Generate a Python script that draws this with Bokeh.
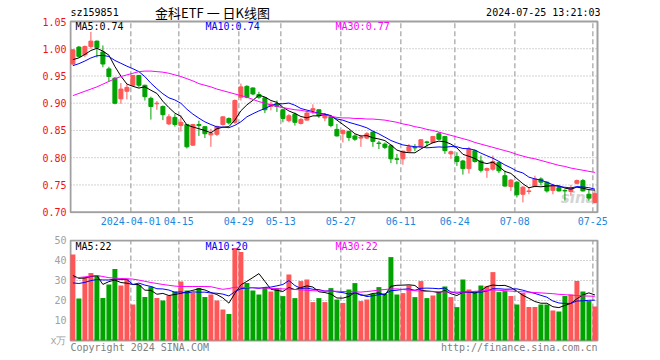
import numpy as np
import pandas as pd
from bokeh.plotting import figure
from bokeh.layouts import column
from bokeh.models import Range1d, FixedTicker, ColumnDataSource
from bokeh.core.properties import value
from bokeh.embed import file_html
from bokeh.resources import INLINE

# ---------------- data ----------------
holidays = ["2024-04-04", "2024-04-05", "2024-05-01", "2024-05-02", "2024-05-03", "2024-06-10"]
dates = [d.strftime("%Y-%m-%d") for d in pd.bdate_range("2024-03-18", "2024-07-25")
         if d.strftime("%Y-%m-%d") not in holidays]

opens = [0.972, 1.003, 0.989, 1.004, 1.014, 0.994, 0.963, 0.946, 0.908, 0.922,
         0.933, 0.951, 0.933, 0.909, 0.899, 0.894, 0.862, 0.874, 0.859, 0.861,
         0.823, 0.861, 0.857, 0.842, 0.843, 0.861, 0.872, 0.865, 0.911, 0.931,
         0.928, 0.916, 0.910, 0.894, 0.899, 0.888, 0.868, 0.880, 0.863, 0.869,
         0.887, 0.888, 0.873, 0.875, 0.852, 0.844, 0.848, 0.840, 0.836, 0.836,
         0.847, 0.827, 0.825, 0.822, 0.798, 0.798, 0.812, 0.819, 0.820, 0.829,
         0.828, 0.844, 0.839, 0.807, 0.802, 0.794, 0.780, 0.813, 0.794, 0.777,
         0.779, 0.791, 0.767, 0.747, 0.755, 0.733, 0.738, 0.747, 0.761, 0.755,
         0.740, 0.745, 0.740, 0.738, 0.753, 0.758, 0.733, 0.718]
highs = [0.999, 1.005, 1.006, 1.031, 1.015, 1.006, 0.967, 0.948, 0.937, 0.935,
         0.952, 0.952, 0.934, 0.912, 0.904, 0.896, 0.880, 0.880, 0.878, 0.862,
         0.862, 0.868, 0.858, 0.853, 0.859, 0.876, 0.874, 0.907, 0.936, 0.933,
         0.929, 0.921, 0.911, 0.903, 0.905, 0.890, 0.880, 0.883, 0.873, 0.886,
         0.898, 0.889, 0.882, 0.877, 0.862, 0.852, 0.850, 0.843, 0.842, 0.847,
         0.848, 0.831, 0.828, 0.825, 0.807, 0.813, 0.825, 0.825, 0.834, 0.831,
         0.840, 0.847, 0.840, 0.813, 0.810, 0.796, 0.820, 0.815, 0.804, 0.782,
         0.804, 0.793, 0.776, 0.761, 0.757, 0.748, 0.745, 0.767, 0.764, 0.757,
         0.752, 0.748, 0.742, 0.750, 0.760, 0.761, 0.742, 0.740]
lows = [0.970, 0.984, 0.985, 1.000, 0.984, 0.966, 0.940, 0.898, 0.899, 0.907,
        0.931, 0.929, 0.905, 0.870, 0.888, 0.869, 0.860, 0.857, 0.848, 0.817,
        0.822, 0.840, 0.836, 0.820, 0.840, 0.859, 0.861, 0.862, 0.905, 0.909,
        0.915, 0.908, 0.882, 0.887, 0.884, 0.865, 0.865, 0.859, 0.861, 0.868,
        0.880, 0.873, 0.867, 0.856, 0.839, 0.828, 0.831, 0.831, 0.820, 0.834,
        0.820, 0.816, 0.816, 0.790, 0.788, 0.787, 0.810, 0.812, 0.819, 0.820,
        0.826, 0.832, 0.807, 0.798, 0.785, 0.769, 0.771, 0.791, 0.773, 0.763,
        0.776, 0.772, 0.747, 0.739, 0.727, 0.718, 0.733, 0.746, 0.749, 0.736,
        0.733, 0.738, 0.721, 0.730, 0.751, 0.738, 0.721, 0.716]
closes = [0.998, 0.986, 1.004, 1.014, 1.002, 0.972, 0.949, 0.900, 0.926, 0.929,
          0.951, 0.933, 0.912, 0.894, 0.900, 0.879, 0.875, 0.861, 0.865, 0.820,
          0.861, 0.859, 0.844, 0.845, 0.857, 0.875, 0.864, 0.905, 0.930, 0.911,
          0.917, 0.911, 0.888, 0.898, 0.894, 0.872, 0.877, 0.865, 0.870, 0.882,
          0.890, 0.877, 0.879, 0.859, 0.840, 0.850, 0.837, 0.834, 0.838, 0.844,
          0.830, 0.826, 0.819, 0.798, 0.797, 0.812, 0.820, 0.818, 0.833, 0.828,
          0.839, 0.834, 0.813, 0.811, 0.793, 0.780, 0.816, 0.793, 0.777, 0.780,
          0.793, 0.776, 0.748, 0.759, 0.732, 0.746, 0.739, 0.761, 0.755, 0.739,
          0.749, 0.739, 0.739, 0.745, 0.758, 0.739, 0.726, 0.734]
# closes of the 9 sessions before the first one shown (estimated from the MA lines)
prior_closes = [0.950, 0.955, 0.958, 0.962, 0.965, 0.970, 0.972, 0.978, 0.982]
# MA30 of price
ma30_price = [0.914, 0.918, 0.922, 0.926, 0.930, 0.935, 0.940, 0.945, 0.949, 0.952,
              0.955, 0.958, 0.959, 0.959, 0.958, 0.957, 0.955, 0.952, 0.949, 0.945,
              0.941, 0.936, 0.933, 0.930, 0.926, 0.923, 0.920, 0.917, 0.914, 0.911,
              0.907, 0.903, 0.900, 0.897, 0.894, 0.892, 0.890, 0.888, 0.887, 0.885,
              0.883, 0.881, 0.878, 0.876, 0.874, 0.873, 0.873, 0.872, 0.872, 0.871,
              0.871, 0.870, 0.869, 0.867, 0.865, 0.862, 0.860, 0.857, 0.855, 0.852,
              0.850, 0.847, 0.844, 0.841, 0.838, 0.835, 0.832, 0.828, 0.825, 0.822,
              0.819, 0.816, 0.813, 0.810, 0.806, 0.803, 0.800, 0.798, 0.795, 0.792,
              0.789, 0.786, 0.784, 0.781, 0.779, 0.777, 0.775, 0.773]

volume = [43.0, 21.0, 31.7, 33.8, 32.5, 21.2, 28.0, 35.7, 27.5, 30.8,
          18.0, 27.8, 21.7, 27.0, 21.2, 20.0, 22.5, 24.5, 29.5, 25.0,
          24.0, 26.2, 21.7, 23.0, 20.0, 15.5, 13.2, 46.2, 44.2, 28.8,
          25.0, 23.0, 26.7, 24.5, 26.2, 22.2, 33.0, 21.2, 29.7, 30.5,
          19.2, 21.2, 19.2, 26.2, 20.5, 18.8, 25.5, 28.7, 19.7, 20.5,
          23.3, 26.7, 23.3, 41.7, 23.0, 23.7, 27.5, 21.7, 29.7, 21.2,
          22.5, 24.5, 27.0, 21.7, 16.7, 30.5, 25.5, 24.2, 27.5, 27.2,
          34.2, 24.2, 24.7, 22.2, 18.0, 23.8, 16.7, 16.7, 18.0, 18.0,
          15.0, 14.5, 22.2, 23.0, 29.7, 24.5, 19.7, 17.0]
prior_volume = [24.0, 26.0, 25.0, 27.0, 23.5, 28.0, 31.0, 30.0, 30.5]
ma30_volume = [31.3, 31.5, 31.8, 32.2, 32.5, 32.0, 31.4, 31.2, 31.0, 30.9,
               30.7, 30.2, 29.6, 29.0, 28.5, 28.0, 27.6, 27.2, 27.0, 27.0,
               27.0, 27.0, 27.0, 26.9, 26.2, 25.6, 26.0, 26.6, 26.6, 26.5,
               26.4, 26.3, 26.2, 26.0, 25.9, 25.8, 25.7, 25.5, 25.3, 25.1,
               24.9, 24.8, 24.7, 24.7, 24.6, 24.5, 24.4, 24.3, 24.2, 24.5,
               24.8, 25.2, 25.5, 25.8, 25.8, 25.5, 25.2, 24.9, 24.7, 24.5,
               24.4, 24.3, 24.3, 24.2, 24.2, 24.2, 24.4, 24.6, 24.8, 25.0,
               25.3, 25.1, 24.9, 24.7, 24.5, 24.3, 24.2, 24.0, 23.8, 23.6,
               23.4, 23.1, 22.9, 22.7, 22.5, 22.3, 22.2, 22.1]

tick_dates = ["2024-04-01", "2024-04-15", "2024-04-29", "2024-05-13", "2024-05-27",
              "2024-06-11", "2024-06-24", "2024-07-08", "2024-07-25"]
tick_labels = ["2024-04-01", "04-15", "04-29", "05-13", "05-27", "06-11", "06-24", "07-08", "07-25"]
price_ticks = [0.70, 0.75, 0.80, 0.85, 0.90, 0.95, 1.00, 1.05]
volume_ticks = [0, 10, 20, 30, 40, 50]
volume_tick_labels = ["x万", "10", "20", "30", "40", "50"]

code = "sz159851"
title = "金科ETF 一 日K线图"
stamp = "2024-07-25 13:21:03"
price_legend = ["MA5:0.74", "MA10:0.74", "MA30:0.77"]
volume_legend = ["MA5:22", "MA10:20", "MA30:22"]
footer_left = "Copyright 2024 SINA.COM"
footer_right = "http://finance.sina.com.cn"
watermark = "sina"

# ---------------- styling / derived ----------------
RED = "#ff5757"
GREEN = "#00a300"
MA_COLORS = ["#000000", "#0000ff", "#ff00ff"]
FRAME = "#a0a0a0"
MONO = "DejaVu Sans Mono"
CJK = "Noto Sans CJK SC"

n = len(closes)
idx = np.arange(n)


def moving(values, prior, k):
    allv = np.array(list(prior) + list(values), dtype=float)
    off = len(prior)
    return [allv[off + i - k + 1: off + i + 1].mean() for i in range(len(values))]


ma5_p = moving(closes, prior_closes, 5)
ma10_p = moving(closes, prior_closes, 10)
ma5_v = moving(volume, prior_volume, 5)
ma10_v = moving(volume, prior_volume, 10)

colors = [RED if c >= o else GREEN for o, c in zip(opens, closes)]
src = ColumnDataSource(dict(
    x=idx, h=highs, l=lows,
    top=[max(o, c) for o, c in zip(opens, closes)],
    bot=[min(o, c) for o, c in zip(opens, closes)],
    vol=volume, color=colors))

tick_pos = [dates.index(d) - 0.35 for d in tick_dates]
# plot box in index units: from just before first candle to just after last one
BOX_L, BOX_R = -0.4, (n - 1) + 0.43
PX = 6.0  # pixels per session
XR = (BOX_L - 1 / PX, BOX_R + 8 / PX)
W = 658
FRAME_LEFT = 69
FRAME_RIGHT = 605


def panel(height, yr, top_border, bottom_border):
    f = figure(width=W, height=height, x_range=Range1d(*XR), y_range=Range1d(*yr),
               output_backend="svg", toolbar_location=None)
    f.min_border_left = FRAME_LEFT
    f.min_border_right = W - FRAME_RIGHT
    f.min_border_top = top_border
    f.min_border_bottom = bottom_border
    f.outline_line_color = None
    f.background_fill_color = "white"
    f.border_fill_color = "white"
    f.xgrid.visible = False
    f.ygrid.visible = False
    f.yaxis.axis_line_color = None
    f.yaxis.major_tick_line_color = None
    f.yaxis.minor_tick_line_color = None
    f.yaxis.major_tick_out = 0
    f.yaxis.major_tick_in = 0
    f.yaxis.minor_tick_out = 0
    f.yaxis.major_label_standoff = 3
    f.yaxis.major_label_text_font = MONO
    f.yaxis.major_label_text_font_size = "10px"
    return f


def box_and_grid(f, y0, y1, grid_vals):
    k = len(grid_vals)
    f.segment(x0=[BOX_L] * k, y0=grid_vals, x1=[BOX_R] * k, y1=grid_vals,
              line_color="#a8a8a8", line_dash="1 2", line_width=1)
    f.segment(x0=tick_pos, y0=[y0] * len(tick_pos), x1=tick_pos, y1=[y1] * len(tick_pos),
              line_color="#b4b4b4", line_dash="5 3", line_width=1.5)
    f.quad(left=[BOX_L], right=[BOX_R], bottom=[y0], top=[y1], fill_color=None,
           line_color=FRAME, line_width=2)


def txt(f, x, y, s, color, align="left", font=MONO, size="10px", style="normal"):
    f.text(x=[x], y=[y], text=[s], text_color=color, text_align=align, text_baseline="middle",
           text_font=value(font), text_font_size=size, text_font_style=style)


# ---------------- price panel (frame reaches the top of the page for the header) ----------------
PY0, PY1 = price_ticks[0], price_ticks[-1]
PPX = 544.7  # pixels per 1.0 of price
p = panel(234, (PY0 - 1.3 / PPX, PY1 + 21 / PPX), 0, 21)
p.yaxis.ticker = FixedTicker(ticks=price_ticks)
p.yaxis.major_label_overrides = {t: f"{t:.2f}" for t in price_ticks}
p.yaxis.major_label_text_color = "#ee1111"
p.xaxis.ticker = FixedTicker(ticks=tick_pos)
p.xaxis.major_label_overrides = {t: lab for t, lab in zip(tick_pos, tick_labels)}
p.xaxis.major_label_text_color = "#1a88dd"
p.xaxis.major_label_text_font = MONO
p.xaxis.major_label_text_font_size = "10px"
p.xaxis.major_label_standoff = 3
p.xaxis.major_tick_out = 0
p.xaxis.major_tick_in = 0
p.xaxis.minor_tick_out = 0
p.xaxis.axis_line_color = None
p.xaxis.major_tick_line_color = None
p.xaxis.minor_tick_line_color = None

box_and_grid(p, PY0, PY1, price_ticks[1:-1])
txt(p, BOX_R - 3.2, PY0 + 14 / PPX, watermark, "#d4d4d4", "center", "DejaVu Sans", "15px", "bold italic")

p.segment(x0="x", y0="l", x1="x", y1="h", color="color", line_width=1, source=src)
p.vbar(x="x", width=0.67, top="top", bottom="bot", fill_color="color",
       line_color="color", line_width=1, source=src)
for ys, col in zip([ma5_p, ma10_p, ma30_price], MA_COLORS):
    p.line(idx, ys, line_color=col, line_width=1)

header_y = PY1 + 9 / PPX
txt(p, BOX_L, header_y, code, "black")
txt(p, 23.27, header_y, title, "black", "center", CJK, "13px")
txt(p, BOX_R + 0.5, header_y, stamp, "black", "right")
for s, xx, col in zip(price_legend, [0.43, 22.1, 43.77], MA_COLORS):
    txt(p, xx, PY1 - 5 / PPX, s, col)

# ---------------- volume panel (frame reaches the bottom of the page for the footer) ----------------
VY0, VY1 = volume_ticks[0], volume_ticks[-1]
VPX = 2.0  # pixels per volume unit
v = panel(124, (VY0 - 18 / VPX, VY1 + 1 / VPX), 5, 0)
v.yaxis.ticker = FixedTicker(ticks=volume_ticks)
v.yaxis.major_label_overrides = {t: s for t, s in zip(volume_ticks, volume_tick_labels)}
v.yaxis.major_label_text_color = "#a0a0a0"
v.xaxis.visible = False

box_and_grid(v, VY0, VY1, volume_ticks[1:-1])
v.vbar(x="x", width=0.83, top="vol", bottom=0, fill_color="color", line_color=None, source=src)
for ys, col in zip([ma5_v, ma10_v, ma30_volume], MA_COLORS):
    v.line(idx, ys, line_color=col, line_width=1)
for s, xx, col in zip(volume_legend, [0.43, 22.1, 43.77], MA_COLORS):
    txt(v, xx, VY1 - 6 / VPX, s, col)
txt(v, BOX_L, VY0 - 7 / VPX, footer_left, "#808080")
txt(v, BOX_R, VY0 - 7 / VPX, footer_right, "#808080", "right")

layout = column(p, v, spacing=0)
open("out.html", "w").write(file_html(layout, INLINE))
